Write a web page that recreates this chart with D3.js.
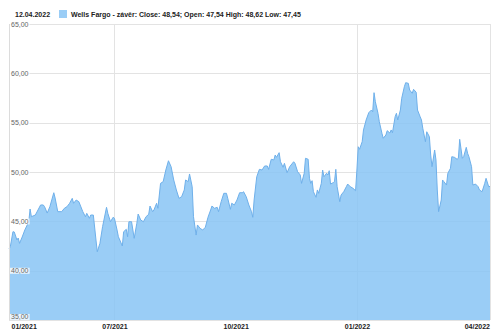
<!DOCTYPE html>
<html><head><meta charset="utf-8">
<script src="https://cdn.jsdelivr.net/npm/d3@7"></script>
<style>body{margin:0;background:#fff}svg{display:block}text{font-family:"Liberation Sans",Arial,sans-serif}</style>
</head><body><svg id="c" width="500" height="334"></svg>
<script>
// ---- data ----
const startDate = "2021-04-12";
const endDate = "2022-04-12";
// trading-day positions, as calendar-day offsets from startDate
const dayOffsets = [0,1,3,4,6,7,8,10,12,15,16,17,20,22,24,26,27,29,31,34,35,37,40,42,44,46,48,49,51,53,56,58,59,61,62,64,66,67,69,71,74,75,77,79,80,82,83,86,87,89,90,91,93,95,97,98,100,102,104,106,107,109,110,112,113,115,117,119,121,123,125,127,129,131,133,134,136,137,139,140,142,143,145,147,149,151,153,154,156,158,159,161,163,165,166,168,169,171,173,175,177,178,180,182,184,185,186,188,190,192,194,196,197,199,201,202,203,205,206,208,209,211,213,216,217,219,221,222,224,225,227,228,229,230,231,233,234,235,237,238,239,241,242,243,244,246,247,248,249,251,252,254,256,257,259,261,263,264,265,266,268,269,271,273,275,276,277,278,280,281,283,284,286,287,289,290,291,293,294,295,297,298,300,301,303,304,306,307,309,310,312,313,314,316,317,319,320,321,323,324,325,326,328,329,330,332,333,335,336,338,340,341,342,344,345,347,348,349,351,352,354,356,357,359,361,362,364,365];
const closes = [42.20,42.43,43.95,43.92,43.11,43.31,42.77,43.41,44.12,44.96,46.25,45.47,45.64,46.15,46.66,46.66,46.48,45.84,46.48,47.90,47.36,45.98,45.98,46.32,46.48,46.83,47.33,46.83,47.16,46.99,45.98,45.47,45.81,45.31,45.64,45.64,43.11,41.92,42.77,44.46,46.42,45.81,44.96,45.41,45.31,44.12,43.44,42.50,43.95,44.19,43.44,44.96,44.96,43.28,44.80,45.74,45.13,44.96,45.47,45.71,46.55,45.98,46.15,46.83,46.32,48.85,49.02,50.20,51.14,50.54,49.19,48.18,47.33,47.50,48.18,49.19,49.02,49.80,48.51,45.47,43.61,44.63,44.29,44.12,44.40,45.41,46.15,46.55,46.32,46.42,45.98,46.99,47.84,47.84,47.33,46.22,46.83,46.66,47.16,47.90,47.90,48.00,47.50,46.66,45.98,45.41,47.16,49.52,50.27,50.20,50.61,50.61,50.27,51.29,51.22,51.72,51.49,51.96,51.04,50.48,50.88,49.93,50.54,51.04,50.88,50.03,49.70,48.85,49.87,51.39,51.29,49.36,48.85,49.12,48.00,47.44,48.18,47.84,48.85,50.20,49.52,49.87,49.70,50.13,48.78,48.92,49.02,50.27,48.51,46.99,47.67,48.00,48.51,48.78,48.51,48.35,48.10,50.20,52.56,52.30,53.07,54.26,55.27,56.01,56.28,56.11,58.04,57.12,55.95,55.10,53.92,53.42,53.75,54.19,53.95,54.26,53.98,55.60,55.95,55.27,56.28,57.47,58.64,59.05,58.99,58.31,57.98,58.38,58.08,56.28,55.60,55.27,54.43,53.07,54.08,53.58,51.72,50.54,52.23,51.22,48.18,45.98,47.16,49.19,49.02,48.68,49.87,50.37,51.55,51.49,51.29,51.39,53.31,51.39,51.55,52.50,51.89,51.55,50.54,48.68,48.78,48.51,48.18,48.00,48.85,49.36,48.51,48.54];
const yTicks = [35, 40, 45, 50, 55, 60, 65];
const xTickDates = ["2021-04-12", "2021-07-01", "2021-10-01", "2022-01-01", "2022-04-01"];
const xTickLabels = ["01/2021", "07/2021", "10/2021", "01/2022", "04/2022"];
const gridDates = ["2021-07-01", "2022-01-01"];
const headerDate = "12.04.2022";
const seriesName = "Wells Fargo - závěr: Close: 48,54; Open: 47,54 High: 48,62 Low: 47,45";

// ---- chart ----
(function () {
const parse = d3.timeParse("%Y-%m-%d");
const start = parse(startDate);
const n = Math.min(dayOffsets.length, closes.length);
const data = dayOffsets.slice(0, n).map((d, i) => ({ date: d3.timeDay.offset(start, d), v: closes[i] }));

const pL = 9, pR = 490, pT = 24, pB = 320;
const x = d3.scaleTime().domain([start, parse(endDate)]).range([pL, pR]);
const y = d3.scaleLinear().domain([35, 65]).range([pB, pT]);

const svg = d3.select("#c");
const fillCol = "#7cb5ec";

// horizontal gridlines
svg.append("g").attr("transform", `translate(${pL},0)`)
  .call(d3.axisLeft(y).tickValues(yTicks).tickSize(-(pR - pL)).tickFormat(""))
  .call(g => g.select(".domain").remove())
  .call(g => g.selectAll("line").attr("stroke", "#e3e3e3").attr("shape-rendering", "crispEdges"));

// vertical gridlines
svg.append("g").attr("transform", `translate(0,${pB})`)
  .call(d3.axisBottom(x).tickValues(gridDates.map(parse)).tickSize(-(pB - pT)).tickFormat(""))
  .call(g => g.select(".domain").remove())
  .call(g => g.selectAll("line").attr("stroke", "#e3e3e3").attr("shape-rendering", "crispEdges"));

// area + line
const area = d3.area().x(d => x(d.date)).y0(y(35)).y1(d => y(d.v));
const line = d3.line().x(d => x(d.date)).y(d => y(d.v));
svg.append("path").datum(data).attr("d", area).attr("fill", "#88c4f4").attr("fill-opacity", 0.85);
svg.append("path").datum(data).attr("d", line).attr("fill", "none").attr("stroke", "#6fb0ea").attr("stroke-width", 1);

// plot borders
svg.append("line").attr("x1", pL + 0.5).attr("x2", pL + 0.5).attr("y1", pT).attr("y2", pB)
  .attr("stroke", "#dcdcdc");
svg.append("line").attr("x1", pR + 0.5).attr("x2", pR + 0.5).attr("y1", pT).attr("y2", pB)
  .attr("stroke", "#e3e3e3");

// y labels inside plot with white boxes
const yAx = svg.append("g").attr("transform", `translate(${pL},0)`)
  .call(d3.axisRight(y).tickValues(yTicks).tickSize(0).tickPadding(2)
    .tickFormat(d => d3.format(".2f")(d).replace(".", ",")));
yAx.select(".domain").remove();
yAx.selectAll("text").attr("font-size", 7).attr("fill", "#666").attr("font-family", "Liberation Sans, Arial, sans-serif")
  .attr("dy", d => d === 35 ? "-0.15em" : "0.3em");
yAx.selectAll(".tick").each(function () {
  const t = d3.select(this).select("text");
  const b = t.node().getBBox();
  d3.select(this).insert("rect", "text").attr("x", b.x - 1).attr("y", b.y + 0.5).attr("width", b.width + 2).attr("height", b.height - 1)
    .attr("fill", "#fff").attr("fill-opacity", 0.8);
});

// x labels
const xAx = svg.append("g").attr("transform", `translate(0,${pB})`)
  .call(d3.axisBottom(x).tickValues(xTickDates.map(parse)).tickSize(0).tickPadding(4)
    .tickFormat((d, i) => xTickLabels[i]));
xAx.select(".domain").remove();
xAx.selectAll("text").attr("font-size", 7).attr("font-weight", "bold").attr("fill", "#222")
  .attr("font-family", "Liberation Sans, Arial, sans-serif");
xAx.selectAll("text").filter((d, i) => i === 0).attr("text-anchor", "start").attr("dx", 2);
xAx.selectAll("text").filter((d, i) => i === xTickLabels.length - 1).attr("text-anchor", "end").attr("dx", 14);

// header
svg.append("text").attr("x", 15).attr("y", 16.5).attr("font-size", 7).attr("font-weight", "bold")
  .attr("fill", "#222").text(headerDate);
svg.append("rect").attr("x", 59).attr("y", 10).attr("width", 8).attr("height", 8).attr("fill", "#88c4f4").attr("fill-opacity", 0.85);
svg.append("text").attr("x", 71).attr("y", 16.5).attr("font-size", 7).attr("font-weight", "bold")
  .attr("fill", "#222").text(seriesName);
})();
</script></body></html>
